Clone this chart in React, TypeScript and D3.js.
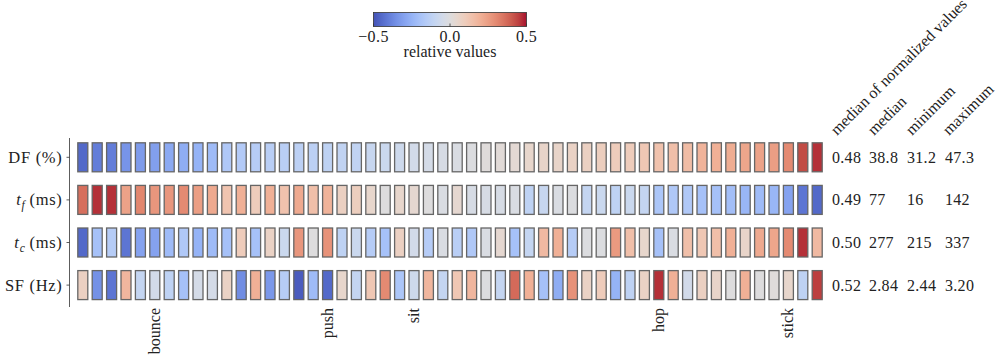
import React from "react";
import * as d3 from "d3";

// Relative values per column (one entry per trial), range -0.5 .. 0.5
const dfValues = [
  -0.45, -0.4, -0.4, -0.34, -0.32, -0.31, -0.28, -0.27, -0.25, -0.22, -0.17, -0.16,
  -0.15, -0.14, -0.14, -0.13, -0.13, -0.12, -0.11, -0.11, -0.09, -0.08, -0.07, -0.05, -0.04,
  -0.03, -0.02, -0.01, 0.01, 0.02, 0.03, 0.05, 0.06, 0.06, 0.07, 0.08, 0.09, 0.1,
  0.1, 0.12, 0.14, 0.15, 0.16, 0.19, 0.2, 0.21, 0.23, 0.24, 0.25, 0.3, 0.43, 0.47,
];
const tfValues = [
  0.36, 0.47, 0.47, 0.24, 0.31, 0.27, 0.27, 0.3, 0.25, 0.22, 0.13, 0.2,
  0.1, 0.2, 0.14, 0.22, 0.15, 0.19, 0.08, 0.09, 0.05, 0.0, 0.05, 0.04, 0.0,
  -0.02, 0.04, -0.03, -0.03, -0.03, -0.02, -0.12, -0.09, -0.02, -0.01, -0.1, -0.08, -0.12,
  -0.08, -0.1, -0.18, -0.17, -0.17, -0.2, -0.2, -0.21, -0.24, -0.22, -0.24, -0.3, -0.42, -0.45,
];
const tcValues = [
  -0.45, -0.2, -0.15, -0.42, -0.3, -0.3, -0.22, -0.17, -0.25, -0.22, -0.2, 0.1,
  -0.2, 0.07, -0.08, 0.27, 0.0, 0.28, -0.12, -0.08, -0.15, -0.2, 0.08, -0.05, -0.15,
  -0.02, -0.14, -0.17, -0.02, 0.04, -0.2, -0.1, 0.17, 0.2, -0.15, -0.01, -0.01, 0.26,
  0.15, 0.05, -0.2, -0.02, 0.15, 0.12, 0.15, 0.2, 0.06, 0.22, 0.23, 0.3, 0.47, 0.17,
];
const sfValues = [
  0.08, -0.35, -0.42, 0.18, -0.1, -0.05, -0.12, -0.2, -0.04, -0.04, 0.07, -0.36,
  0.2, -0.33, -0.15, -0.48, -0.22, -0.45, 0.05, -0.1, 0.12, 0.3, -0.18, -0.07, 0.18,
  -0.1, 0.12, 0.18, -0.01, -0.1, 0.37, 0.2, -0.2, -0.27, 0.28, 0.07, 0.1, -0.25,
  -0.12, 0.07, 0.47, 0.2, -0.05, 0.08, 0.06, 0.0, 0.2, 0.0, 0.01, 0.05, -0.12, 0.45,
];

const rowKeys = ["DF", "tf", "tc", "SF"];
const rowValues = [dfValues, tfValues, tcValues, sfValues];

// Named columns along the bottom
const namedColumns = [5, 17, 23, 40, 49];
const columnNames = ["bounce", "push", "sit", "hop", "stick"];

// Summary table to the right
const tableHeaders = ["median of normalized values", "median", "minimum", "maximum"];
const medianNormalized = ["0.48", "0.49", "0.50", "0.52"];
const medians = ["38.8", "77", "277", "2.84"];
const minimums = ["31.2", "16", "215", "2.44"];
const maximums = ["47.3", "142", "337", "3.20"];

const colorbarTicks = [-0.5, 0.0, 0.5];

// matplotlib "coolwarm" control colours
const coolwarmRGB = [
  [59, 76, 192], [68, 90, 204], [77, 104, 215], [87, 117, 225], [98, 130, 234],
  [108, 142, 241], [119, 154, 247], [130, 165, 251], [141, 176, 254], [152, 185, 255],
  [163, 194, 255], [174, 201, 253], [184, 208, 249], [194, 213, 244], [204, 217, 238],
  [213, 219, 230], [221, 221, 221], [229, 216, 209], [236, 211, 197], [241, 204, 185],
  [245, 196, 173], [247, 187, 160], [247, 177, 148], [247, 166, 135], [244, 154, 123],
  [241, 141, 111], [236, 127, 99], [229, 112, 88], [222, 96, 77], [213, 80, 66],
  [203, 62, 56], [192, 40, 47], [180, 4, 38],
];

// slightly softened print version of the map
const coolwarm = coolwarmRGB.map(([r, g, b]) => {
  const c = d3.hsl(d3.rgb(r, g, b));
  c.s *= 0.85;
  return c.formatHex();
});

const coolwarmInterp = d3.interpolateRgbBasis(coolwarm);
const color = d3.scaleSequential(coolwarmInterp).domain([-0.5, 0.5]).clamp(true);

const FONT = "'Liberation Serif', 'Times New Roman', serif";
const FS = 16;

function RowLabel({ k }: { k: string }) {
  if (k === "DF") return <>DF (%)</>;
  if (k === "SF") return <>SF (Hz)</>;
  const sub = k === "tf" ? "f" : "c";
  return (
    <>
      <tspan fontStyle="italic">t</tspan>
      <tspan fontStyle="italic" fontSize={11.5} dy={4}>{sub}</tspan>
      <tspan dy={-4}>{"\u2009(ms)"}</tspan>
    </>
  );
}

export default function App() {
  const width = 1003;
  const height = 356;

  const cols = d3.range(dfValues.length);
  const x = d3
    .scaleBand<number>()
    .domain(cols)
    .range([75.6, 75.6 + cols.length * 14.4])
    .paddingInner(0.236)
    .paddingOuter(0.118);
  const y = d3
    .scaleBand<string>()
    .domain(rowKeys)
    .range([136, 136 + rowKeys.length * 42.6])
    .paddingInner(0.296)
    .paddingOuter(0.148);

  const cbX = d3.scaleLinear().domain([-0.5, 0.5]).range([373.5, 526.5]);
  const cbTop = 12.5;
  const cbH = 14;

  const tableX = [832, 869, 907, 945];
  const tableCols = [medianNormalized, medians, minimums, maximums];
  const headerX = [837, 874, 912, 949];

  const gradStops = d3.range(0, 1.0001, 0.05);

  return (
    <svg
      width={width}
      height={height}
      style={{ position: "absolute", left: 0, top: 0, background: "#fff" }}
      fontFamily={FONT}
      fontSize={FS}
    >
      <defs>
        <linearGradient id="cbgrad" x1="0" x2="1" y1="0" y2="0">
          {gradStops.map((t) => (
            <stop key={t} offset={t} stopColor={coolwarmInterp(t)} />
          ))}
        </linearGradient>
      </defs>

      {/* colour bar */}
      <rect
        x={cbX(-0.5)}
        y={cbTop}
        width={cbX(0.5) - cbX(-0.5)}
        height={cbH}
        fill="url(#cbgrad)"
        stroke="#333"
        strokeWidth={0.8}
      />
      {colorbarTicks.map((t) => (
        <g key={t}>
          <line x1={cbX(t)} x2={cbX(t)} y1={cbTop + cbH} y2={cbTop + cbH - 3} stroke="#333" strokeWidth={0.8} />
          <text x={cbX(t)} y={41.5} textAnchor="middle" fill="#222" letterSpacing={0.4}>
            {d3.format(".1f")(t).replace("-", "\u2212")}
          </text>
        </g>
      ))}
      <text x={cbX(0)} y={57} textAnchor="middle" fill="#222">
        relative values
      </text>

      {/* left spine with ticks */}
      <line x1={69.5} x2={69.5} y1={138} y2={307} stroke="#333" strokeWidth={0.8} />
      {rowKeys.map((k) => {
        const cy = (y(k) as number) + y.bandwidth() / 2;
        return (
          <g key={k}>
            <line x1={66.5} x2={69.5} y1={cy} y2={cy} stroke="#333" strokeWidth={0.8} />
            <text x={62.5} y={cy + 5.5} textAnchor="end" fill="#222" fontSize={16.5} letterSpacing={0.7}>
              <RowLabel k={k} />
            </text>
          </g>
        );
      })}

      {/* heatmap cells */}
      {rowKeys.map((k, ri) =>
        rowValues[ri].map((v, ci) => (
          <rect
            key={`${k}-${ci}`}
            x={(x(ci) as number) + 0.5}
            y={(y(k) as number) + 0.5}
            width={x.bandwidth() - 1}
            height={y.bandwidth() - 1}
            fill={color(v)}
            stroke="#666"
            strokeWidth={1.3}
          />
        ))
      )}

      {/* named columns */}
      {namedColumns.map((c, i) => {
        const cx = (x(c) as number) + x.bandwidth() / 2;
        return (
          <text
            key={c}
            transform={`translate(${cx + 5},308) rotate(-90)`}
            textAnchor="end"
            fill="#222"
          >
            {columnNames[i]}
          </text>
        );
      })}

      {/* summary table */}
      {tableHeaders.map((h, i) => (
        <text key={h} transform={`translate(${headerX[i]},136) rotate(-45)`} fill="#222">
          {h}
        </text>
      ))}
      {rowKeys.map((k, ri) => {
        const cy = (y(k) as number) + y.bandwidth() / 2;
        return tableCols.map((col, ci) => (
          <text key={`${k}-t${ci}`} x={tableX[ci]} y={cy + 5.5} fill="#222" letterSpacing={0.3}>
            {col[ri]}
          </text>
        ));
      })}
    </svg>
  );
}
